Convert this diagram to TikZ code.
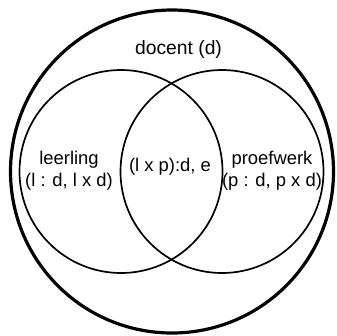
\documentclass[tikz,border=0pt]{standalone}
\usepackage{fontspec}
\setmainfont{Liberation Sans}
\begin{document}
\begin{tikzpicture}[x=1pt,y=-1pt]
        \useasboundingbox (0,0) rectangle (337,335);
        \tikzset{venntext/.style={inner sep=0pt, align=center, font=\fontsize{18.4}{21.7}\selectfont}}
        \node[draw, circle, line width=3.2pt, minimum size=323pt, inner sep=0pt] (docent) at (172,171.5) {};
        \node[draw, circle, line width=1.7pt, minimum size=203pt, inner sep=0pt] (leerling) at (121,171.5) {};
        \node[draw, circle, line width=1.7pt, minimum size=203pt, inner sep=0pt] (proefwerk) at (222,171.5) {};
        \node[venntext, anchor=base, font=\fontsize{19.3}{22}\selectfont] (dlabel) at (178.5,54.5) {docent (d)};
        \node[venntext] (llabel) at (69,171) {leerling\\(l : d, l x d)};
        \node[venntext, anchor=base] (lplabel) at (170,171.7) {(l x p):d, e};
        \node[venntext] (plabel) at (272,171) {proefwerk\\(p : d, p x d)};
    \end{tikzpicture}
\end{document}
